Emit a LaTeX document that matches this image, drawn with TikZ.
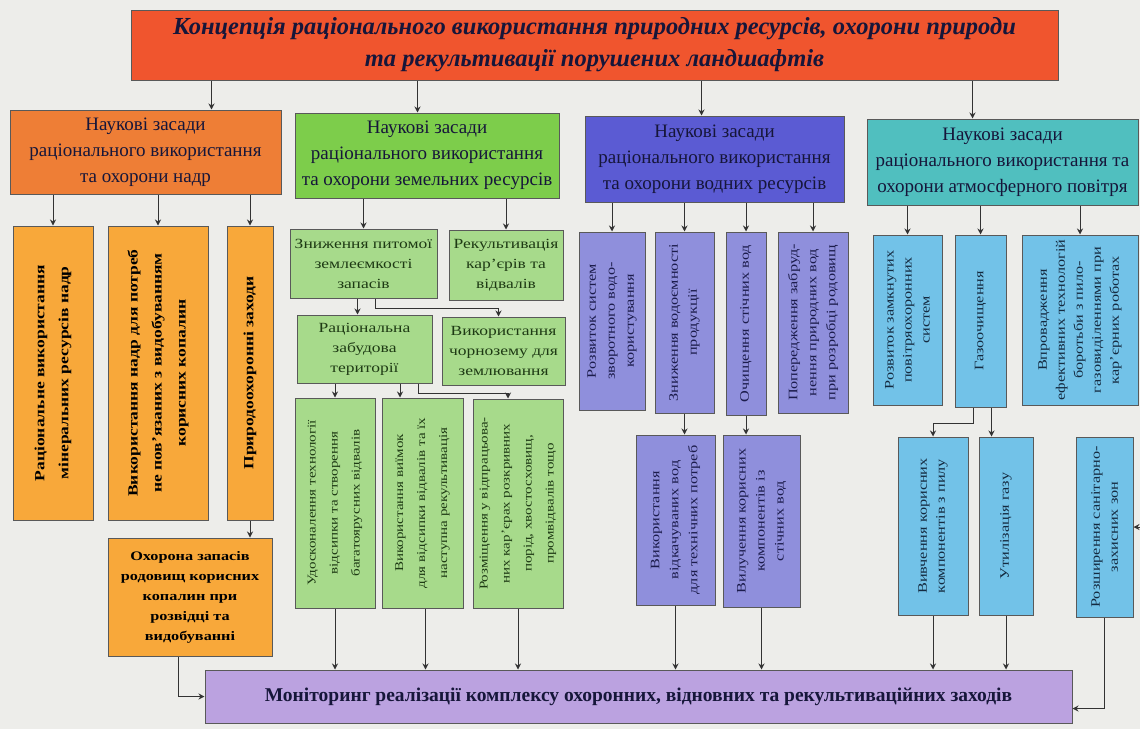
\documentclass[tikz,border=0pt]{standalone}
\usepackage{fontspec}
\setmainfont{Liberation Serif}
\newfontfamily\wideserif[FakeStretch=1.25]{Liberation Serif}
\usetikzlibrary{arrows.meta}
\definecolor{bg}{HTML}{EDEDEA}
\definecolor{titlefill}{HTML}{F0552E}
\definecolor{orhead}{HTML}{EE7E36}
\definecolor{orsub}{HTML}{F8A83A}
\definecolor{grhead}{HTML}{7DCD4B}
\definecolor{grsub}{HTML}{A7DA8B}
\definecolor{blhead}{HTML}{5B5BD3}
\definecolor{blsub}{HTML}{8F8FDC}
\definecolor{tlhead}{HTML}{50BFBF}
\definecolor{tlsub}{HTML}{72C2E8}
\definecolor{monfill}{HTML}{BBA2E0}
\definecolor{navy}{HTML}{16163A}
\definecolor{dkgreen}{HTML}{1E3A14}
\definecolor{dkblue}{HTML}{1C1C4C}
\definecolor{dkteal}{HTML}{142A40}
\begin{document}
\begin{tikzpicture}[x=1pt,y=-1pt,
  box/.style={draw=black!65, line width=1pt, inner sep=0pt, rectangle},
  arr/.style={draw=black!80, line width=1pt, -{Stealth[length=6pt,width=6pt]}},
  ttl/.style={align=center, inner sep=0pt, text=navy, font=\fontsize{24.5}{32}\selectfont\bfseries\itshape},
  hdr/.style={align=center, inner sep=0pt, text=navy, font=\fontsize{19}{26}\selectfont},
  vor/.style={rotate=90, align=center, inner sep=0pt, text=black, font=\wideserif\fontsize{14}{24}\selectfont\bfseries},
  vgr/.style={rotate=90, align=center, inner sep=0pt, text=dkgreen, font=\wideserif\fontsize{12}{22}\selectfont},
  hgr/.style={align=center, inner sep=0pt, text=dkgreen, font=\wideserif\fontsize{14}{20}\selectfont},
  vbl/.style={rotate=90, align=center, inner sep=0pt, text=dkblue, font=\wideserif\fontsize{13}{19}\selectfont},
  vtl/.style={rotate=90, align=center, inner sep=0pt, text=dkteal, font=\wideserif\fontsize{13}{18}\selectfont},
]
\fill[bg] (0,0) rectangle (1140,729);
\useasboundingbox (0,0) rectangle (1140,729);

% title
\node[box, fill=titlefill, minimum width=927, minimum height=70] (title) at (594.5,45) {};
\node[ttl] (titlet) at (title.center) {Концепція раціонального використання природних ресурсів, охорони природи\\та рекультивації порушених ландшафтів};

% headers
\node[box, fill=orhead, minimum width=271, minimum height=84] (h1) at (145.5,152) {};
\node[hdr] (h1t) at (h1.center) {Наукові засади\\раціонального використання\\та охорони надр};
\node[box, fill=grhead, minimum width=264, minimum height=85] (h2) at (427,155.5) {};
\node[hdr] (h2t) at (h2.center) {Наукові засади\\раціонального використання\\та охорони земельних ресурсів};
\node[box, fill=blhead, minimum width=259, minimum height=86] (h3) at (714.5,159) {};
\node[hdr] (h3t) at (h3.center) {Наукові засади\\раціонального використання\\та охорони водних ресурсів};
\node[box, fill=tlhead, minimum width=271, minimum height=86] (h4) at (1002.5,162) {};
\node[hdr] (h4t) at (h4.center) {Наукові засади\\раціонального використання та\\охорони атмосферного повітря};

% orange column
\node[box, fill=orsub, minimum width=80, minimum height=294] (o1) at (53,373) {};
\node[vor] (o1t) at (o1.center) {Раціональне використання\\мінеральних ресурсів надр};
\node[box, fill=orsub, minimum width=100, minimum height=294] (o2) at (158,373) {};
\node[vor] (o2t) at (o2.center) {Використання надр для потреб\\не пов’язаних з видобуванням\\корисних копалин};
\node[box, fill=orsub, minimum width=46, minimum height=294] (o3) at (250,373) {};
\node[vor] (o3t) at (o3.center) {Природоохоронні заходи};
\node[box, fill=orsub, minimum width=164, minimum height=118] (o4) at (190,597) {};
\node[align=center, inner sep=0pt, text=black, font=\wideserif\fontsize{13}{20}\selectfont\bfseries] (o4t) at (o4.center) {Охорона запасів\\родовищ корисних\\копалин при\\розвідці та\\видобуванні};

% green column
\node[box, fill=grsub, minimum width=147, minimum height=69] (g1) at (363.5,263.5) {};
\node[hgr] (g1t) at (g1.center) {Зниження питомої\\землеємкості\\запасів};
\node[box, fill=grsub, minimum width=114, minimum height=70] (g2) at (506,265) {};
\node[hgr] (g2t) at (g2.center) {Рекультивація\\кар’єрів та\\відвалів};
\node[box, fill=grsub, minimum width=135, minimum height=68] (g3) at (364.5,349) {};
\node[hgr] (g3t) at (g3.center) {Раціональна\\забудова\\території};
\node[box, fill=grsub, minimum width=123, minimum height=68] (g4) at (503.5,351) {};
\node[hgr] (g4t) at (g4.center) {Використання\\чорнозему для\\землювання};
\node[box, fill=grsub, minimum width=80, minimum height=210] (g5) at (335,503) {};
\node[vgr] (g5t) at (g5.center) {Удосконалення технології\\відсипки та створення\\багатоярусних відвалів};
\node[box, fill=grsub, minimum width=81, minimum height=210] (g6) at (422.5,503) {};
\node[vgr] (g6t) at (g6.center) {Використання виїмок\\для відсипки відвалів та їх\\наступна рекультивація};
\node[box, fill=grsub, minimum width=90, minimum height=209] (g7) at (518,503.5) {};
\node[vgr] (g7t) at (g7.center) {Розміщення у відпрацьова-\\них кар’єрах розкривних\\порід, хвостосховищ,\\промвідвалів тощо};

% blue column
\node[box, fill=blsub, minimum width=66, minimum height=178] (b1) at (612,321) {};
\node[vbl] (b1t) at (b1.center) {Розвиток систем\\зворотного водо-\\користування};
\node[box, fill=blsub, minimum width=59, minimum height=181] (b2) at (684.5,322.5) {};
\node[vbl] (b2t) at (b2.center) {Зниження водоємності\\продукції};
\node[box, fill=blsub, minimum width=40, minimum height=183] (b3) at (746,323.5) {};
\node[vbl] (b3t) at (b3.center) {Очищення стічних вод};
\node[box, fill=blsub, minimum width=70, minimum height=181] (b4) at (813,322.5) {};
\node[vbl] (b4t) at (b4.center) {Попередження забруд-\\нення природних вод\\при розробці родовищ};
\node[box, fill=blsub, minimum width=79, minimum height=170] (b5) at (675.5,520) {};
\node[vbl] (b5t) at (b5.center) {Використання\\відкачуваних вод\\для технічних потреб};
\node[box, fill=blsub, minimum width=77, minimum height=172] (b6) at (761.5,521) {};
\node[vbl] (b6t) at (b6.center) {Вилучення корисних\\компонентів із\\стічних вод};

% teal column
\node[box, fill=tlsub, minimum width=69, minimum height=170] (t1) at (907.5,320) {};
\node[vtl] (t1t) at (t1.center) {Розвиток замкнутих\\повітряохоронних\\систем};
\node[box, fill=tlsub, minimum width=51, minimum height=172] (t2) at (980.5,321) {};
\node[vtl] (t2t) at (t2.center) {Газоочищення};
\node[box, fill=tlsub, minimum width=116, minimum height=170] (t3) at (1080,320) {};
\node[vtl] (t3t) at (t3.center) {Впровадження\\ефективних технологій\\боротьби з пило-\\газовиділеннями при\\кар’єрних роботах};
\node[box, fill=tlsub, minimum width=70, minimum height=178] (t4) at (933,526) {};
\node[vtl] (t4t) at (t4.center) {Вивчення корисних\\компонентів з пилу};
\node[box, fill=tlsub, minimum width=54, minimum height=178] (t5) at (1006,526) {};
\node[vtl] (t5t) at (t5.center) {Утилізація газу};
\node[box, fill=tlsub, minimum width=57, minimum height=180] (t6) at (1104.5,527) {};
\node[vtl] (t6t) at (t6.center) {Розширення санітарно-\\захисних зон};

% monitoring
\node[box, fill=monfill, minimum width=867, minimum height=53] (mon) at (638.5,696.5) {};
\node[inner sep=0pt, text=navy, font=\fontsize{19.5}{22}\selectfont\bfseries] (mont) at (mon.center) {Моніторинг реалізації комплексу охоронних, відновних та рекультиваційних заходів};

% connectors: title -> headers
\draw[arr] ([xshift=-383pt]title.south) -- ([xshift=-383pt]title.south |- h1.north);
\draw[arr] ([xshift=-177pt]title.south) -- ([xshift=-177pt]title.south |- h2.north);
\draw[arr] ([xshift=107pt]title.south) -- ([xshift=107pt]title.south |- h3.north);
\draw[arr] ([xshift=378pt]title.south) -- ([xshift=378pt]title.south |- h4.north);

% headers -> sub boxes
\draw[arr] (h1.south -| o1.north) -- (o1.north);
\draw[arr] (h1.south -| o2.north) -- (o2.north);
\draw[arr] (h1.south -| o3.north) -- (o3.north);
\draw[arr] (h2.south -| g1.north) -- (g1.north);
\draw[arr] (h2.south -| g2.north) -- (g2.north);
\draw[arr] (h3.south -| b1.north) -- (b1.north);
\draw[arr] (h3.south -| b2.north) -- (b2.north);
\draw[arr] (h3.south -| b3.north) -- (b3.north);
\draw[arr] (h3.south -| b4.north) -- (b4.north);
\draw[arr] (h4.south -| t1.north) -- (t1.north);
\draw[arr] (h4.south -| t2.north) -- (t2.north);
\draw[arr] (h4.south -| t3.north) -- (t3.north);

% orange
\draw[arr] (o3.south) -- (o3.south |- o4.north);
\draw[arr] ([xshift=-12pt]o4.south) |- (mon.west);

% green
\draw[arr] ([xshift=-6pt]g1.south) -- ([xshift=-6pt]g1.south |- g3.north);
\draw[arr] ([xshift=12pt]g1.south) -- ++(0,10) -| ([xshift=-5pt]g4.north);
\draw[arr] (g3.south -| g5.north) -- (g5.north);
\draw[arr] ([xshift=35.5pt]g3.south) -- ([xshift=35.5pt]g3.south |- g6.north);
\draw[arr] ([xshift=53.5pt]g3.south) -- ++(0,10) -| ([xshift=-10pt]g7.north);
\draw[arr] (g5.south) -- (g5.south |- mon.north);
\draw[arr] ([xshift=3pt]g6.south) -- ([xshift=3pt]g6.south |- mon.north);
\draw[arr] (g7.south) -- (g7.south |- mon.north);

% blue
\draw[arr] (b2.south) -- (b2.south |- b5.north);
\draw[arr] (b3.south) -- (b3.south |- b6.north);
\draw[arr] (b5.south) -- (b5.south |- mon.north);
\draw[arr] (b6.south) -- (b6.south |- mon.north);

% teal
\draw[arr] ([xshift=-7pt]t2.south) -- ++(0,16) -| (t4.north);
\draw[arr] ([xshift=11pt]t2.south) -- ([xshift=11pt]t2.south |- t5.north);
\draw[arr] (t4.south) -- (t4.south |- mon.north);
\draw[arr] (t5.south) -- (t5.south |- mon.north);
\draw[arr] (t6.south) |- ([yshift=-12pt]mon.east);
\coordinate (t6in) at (1140,527);
\draw[arr] (t6in) -- (t6.east);
\end{tikzpicture}
\end{document}
